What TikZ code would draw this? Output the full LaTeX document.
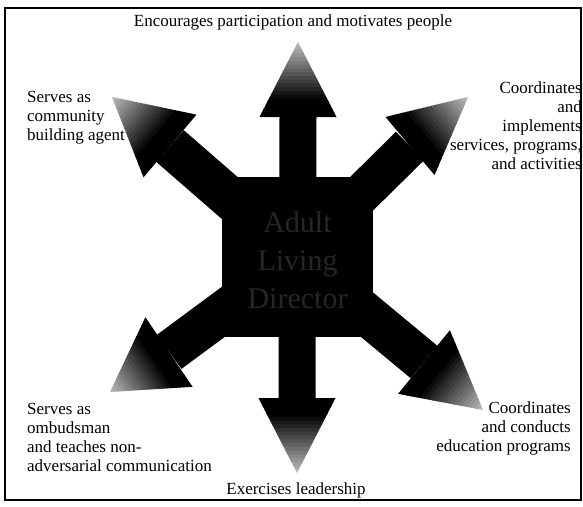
\documentclass[tikz,border=0pt]{standalone}
\usepackage{fontspec}
\setmainfont{Liberation Serif}
\usetikzlibrary{calc}
\tikzset{
    lbl/.style={inner sep=0pt, font=\fontsize{17}{19}\selectfont},
    hub/.style={align=center, inner sep=0pt, text=black!85, font=\fontsize{30}{38}\selectfont}
}
\begin{document}
\begin{tikzpicture}[x=1pt, y=-1pt]
    \useasboundingbox (0,0) rectangle (583,506);
    % Frame
    \draw[line width=2.5pt] (5,8) rectangle (581,500);

    % Hub
    \coordinate (C) at (297.5,257);
    \fill (222,177) rectangle (373,337);

    % Arms: base, tip, shaft width, head width
    \foreach \bx/\by/\tx/\ty/\sw/\hw in {
        298/117/298/42/18.5pt/38.5pt,
        297/398/297/473/18.5pt/38.5pt,
        170/146/112/97/21pt/41pt,
        410/146/468/97/20pt/38pt,
        169/352/110/392/21pt/42pt,
        424/362/483/410/21pt/41pt} {
        \coordinate (b) at (\bx,\by);
        \coordinate (t) at (\tx,\ty);
        \fill ($(C)!\sw!90:(b)$) -- ($(b)!\sw!-90:(C)$) -- ($(b)!\sw!90:(C)$) -- ($(C)!\sw!-90:(b)$) -- cycle;
        \coordinate (l) at ($(b)!\hw!90:(t)$);
        \coordinate (r) at ($(b)!\hw!-90:(t)$);
        % head fades from black at the base to grey at the tip
        \foreach \i in {0,...,19} {
            \pgfmathsetmacro{\fa}{\i/20}
            \pgfmathsetmacro{\fb}{min(1,(\i+1.3)/20)}
            \pgfmathsetmacro{\tone}{\i<4 ? 100 : 100-72*(\i-4)/15}
            \fill[black!\tone] ($(l)!\fa!(t)$) -- ($(l)!\fb!(t)$) -- ($(r)!\fb!(t)$) -- ($(r)!\fa!(t)$) -- cycle;
        }
    }

    % Labels
    \node[hub] (role) at (297.5,260) {Adult\\Living\\Director};
    \node[lbl] (top) at (293,22) {Encourages participation and motivates people};
    \node[lbl, align=left, anchor=west] (ul) at (27,118) {Serves as\\community\\building agent};
    \node[lbl, align=right, anchor=east] (ur) at (582,126) {Coordinates\\and\\implements\\services, programs,\\and activities};
    \node[lbl, align=left, anchor=west] (ll) at (27,437) {Serves as\\ombudsman\\and teaches non-\\adversarial communication};
    \node[lbl, align=right, anchor=east] (lr) at (571,428) {Coordinates\\and conducts\\education programs};
    \node[lbl] (bot) at (296,490) {Exercises leadership};
\end{tikzpicture}
\end{document}
